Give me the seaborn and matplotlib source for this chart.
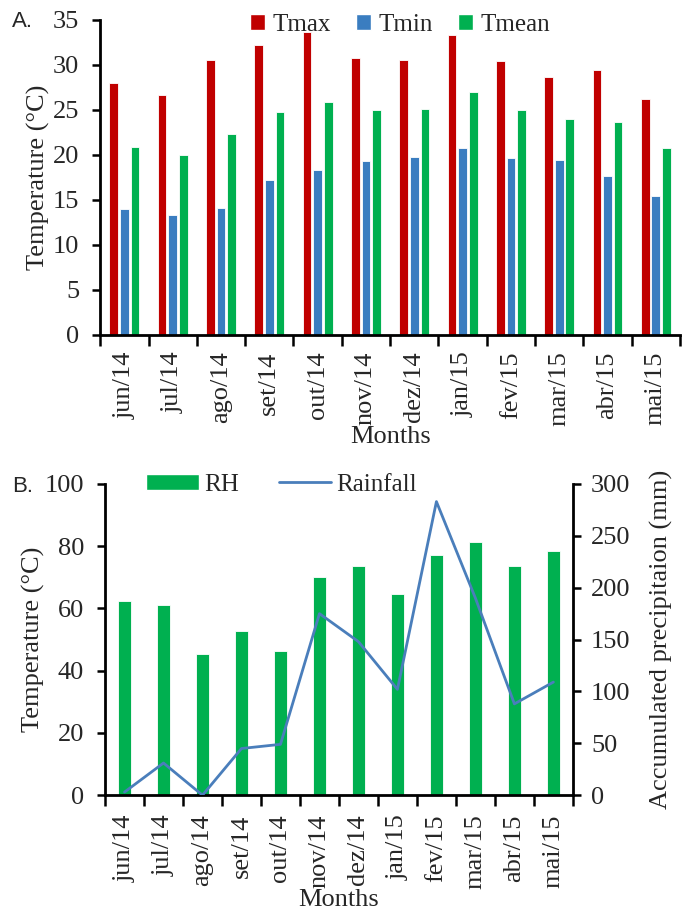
import numpy as np
import pandas as pd
import matplotlib
matplotlib.use('Agg')
import matplotlib.pyplot as plt
import seaborn as sns
from matplotlib.patches import Patch
from matplotlib.lines import Line2D

# ── Data ──────────────────────────────────────────────────────────────
months = ['jun/14', 'jul/14', 'ago/14', 'set/14', 'out/14', 'nov/14',
          'dez/14', 'jan/15', 'fev/15', 'mar/15', 'abr/15', 'mai/15']
tmax  = [28.0, 26.6, 30.5, 32.2, 33.6, 30.7, 30.5, 33.3, 30.4, 28.6, 29.4, 26.2]
tmin  = [14.0, 13.3, 14.1, 17.2, 18.3, 19.3, 19.7, 20.8, 19.6, 19.4, 17.7, 15.4]
tmean = [20.9, 20.0, 22.3, 24.7, 25.9, 25.0, 25.1, 27.0, 25.0, 24.0, 23.6, 20.8]
rh       = [62.3, 61.0, 45.5, 52.8, 46.3, 70.2, 73.7, 64.8, 77.3, 81.2, 73.7, 78.5]
rainfall = [3, 31, 0, 45, 49, 175, 148, 102, 283, 190, 88, 109]

series_names = ['Tmax', 'Tmin', 'Tmean']
colors = {'Tmax': '#C00000', 'Tmin': '#3A7DC0', 'Tmean': '#00B050'}
rain_color = '#4A7EBB'

sns.set_theme(style='white')
plt.rcParams['font.family'] = ['Liberation Serif', 'DejaVu Serif']
FS = 19
FS_LEG = 18
SANS = ['Liberation Sans', 'DejaVu Sans']

fig = plt.figure(figsize=(6.82, 9.14), dpi=100)
axA = fig.add_axes([0.147, 0.6335, 0.850, 0.345])
axB = fig.add_axes([0.154, 0.130, 0.686, 0.3405])


def style_axis(ax, n, xpad):
    ax.set_xlim(-0.5, n - 0.5)
    ax.set_xticks(np.arange(n))
    ax.set_xticklabels(months, rotation=90, fontsize=FS)
    ax.set_xticks(np.arange(n + 1) - 0.5, minor=True)
    ax.tick_params(axis='x', which='major', length=0, pad=xpad)
    ax.tick_params(axis='x', which='minor', length=8, width=1.8,
                   direction='out', color='black', bottom=True)
    ax.tick_params(axis='y', length=6, width=1.8, direction='out',
                   color='black', left=True, labelsize=FS, pad=9)
    for s in ['top', 'right']:
        ax.spines[s].set_visible(False)
    for s in ['left', 'bottom']:
        ax.spines[s].set_color('black')
        ax.spines[s].set_linewidth(2)


# ── Panel A ───────────────────────────────────────────────────────────
dfA = pd.DataFrame({'Month': months, 'Tmax': tmax, 'Tmin': tmin, 'Tmean': tmean})
dfA = dfA.melt(id_vars='Month', var_name='Series', value_name='Temp')
sns.barplot(data=dfA, x='Month', y='Temp', hue='Series', hue_order=series_names,
            palette=colors, saturation=1, ax=axA, width=0.66, gap=0.18,
            edgecolor='white', linewidth=0.6, legend=False)
style_axis(axA, len(months), xpad=12)
axA.set_ylim(0, 35)
axA.set_yticks(np.arange(0, 36, 5))
axA.set_ylabel('Temperature (°C)', fontsize=FS, labelpad=2)
axA.set_xlabel('Months', fontsize=FS, labelpad=0)
handlesA = [Patch(facecolor=colors[n], edgecolor='white') for n in series_names]
axA.legend(handlesA, series_names, loc='upper center', bbox_to_anchor=(0.517, 1.09),
           ncol=3, frameon=False, fontsize=FS_LEG, handlelength=0.6, handleheight=0.6,
           handletextpad=0.3, columnspacing=1.0)
fig.text(0.018, 0.970, 'A.', fontsize=16, family=SANS)

# ── Panel B ───────────────────────────────────────────────────────────
dfB = pd.DataFrame({'Month': months, 'RH': rh, 'Rainfall': rainfall})
sns.barplot(data=dfB, x='Month', y='RH', color='#00B050', ax=axB,
            width=0.32, edgecolor='white', linewidth=0.6, saturation=1)
style_axis(axB, len(months), xpad=14)
axB.set_ylim(0, 100)
axB.set_yticks(np.arange(0, 101, 20))
axB.set_ylabel('Temperature (°C)', fontsize=FS, labelpad=0)
axB.set_xlabel('Months', fontsize=FS, labelpad=0)

axR = axB.twinx()
sns.lineplot(x=np.arange(len(months)), y=dfB['Rainfall'], ax=axR,
             color=rain_color, linewidth=2)
axR.set_xlim(-0.5, len(months) - 0.5)
axR.set_ylim(0, 300)
axR.set_yticks(np.arange(0, 301, 50))
axR.set_ylabel('Accumulated precipitaion (mm)', fontsize=FS, labelpad=14)
axR.tick_params(axis='y', length=6, width=1.8, direction='out', color='black',
                right=True, labelsize=FS, pad=7)
for s in ['top', 'left', 'bottom']:
    axR.spines[s].set_visible(False)
axR.spines['right'].set_color('black')
axR.spines['right'].set_linewidth(2)
axR.grid(False)

handlesB = [Patch(facecolor='#00B050', edgecolor='white'),
            Line2D([0], [0], color=rain_color, linewidth=2)]
axB.legend(handlesB, ['RH', 'Rainfall'], loc='upper left', bbox_to_anchor=(0.04, 1.105),
           ncol=2, frameon=False, fontsize=FS_LEG, handlelength=2.1, handleheight=0.6,
           handletextpad=0.2, columnspacing=1.6)
fig.text(0.018, 0.462, 'B.', fontsize=16, family=SANS)

fig.savefig('out.png', dpi=100)
